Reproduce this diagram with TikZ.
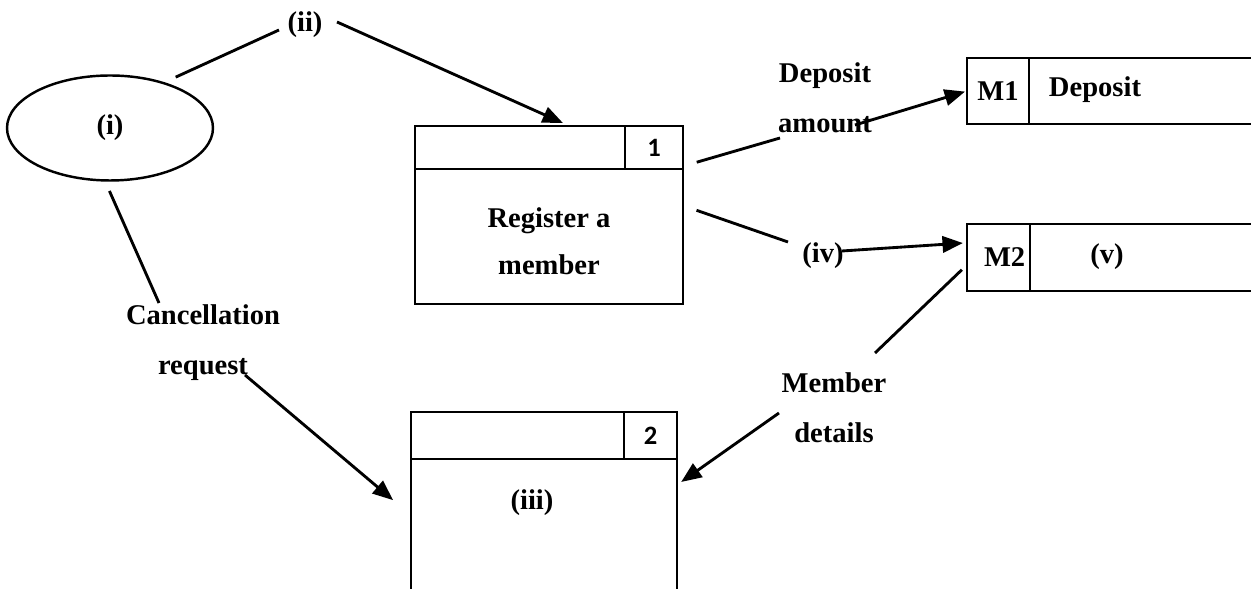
\documentclass[tikz,border=0pt]{standalone}
\usepackage{fontspec}
\setmainfont{Liberation Serif}
\newfontfamily\idfont{Carlito}
\usetikzlibrary{shapes, arrows.meta, positioning}
\newcommand{\pxl}{0.49pt}

\begin{document}
\begin{tikzpicture}[
			x=\pxl, y=-\pxl,
			every node/.style={font=\fontsize{14}{24.5}\selectfont\bfseries, align=center},
			lbl/.style={inner sep=2pt},
			proc/.style={draw, line width=1.3pt, inner sep=0, outer sep=0, anchor=north west},
			procid/.style={draw, line width=1.3pt, inner sep=0, outer sep=0, anchor=north east, font=\idfont\fontsize{13}{13}\selectfont\bfseries},
			store/.style={draw, line width=1.1pt, inner sep=0, outer sep=0, anchor=north west, minimum width=420*\pxl},
			storeid/.style={draw, line width=1.1pt, inner sep=0, outer sep=0, anchor=north west},
			flow/.style={line width=1.4pt},
			flowarrow/.style={flow, -{Triangle[length=10pt, width=8pt]}}
		]
			\useasboundingbox (0,0) rectangle (1251,589);
			\clip (0,0) rectangle (1251,589);

			\node (ext) [draw, ellipse, line width=1.2pt, inner sep=0, minimum width=206*\pxl, minimum height=105*\pxl] at (110,128) {(i)};

			\node (proc1) [proc, minimum width=268*\pxl, minimum height=178*\pxl] at (415,126) {};
			\node (proc1id) [procid, minimum width=58*\pxl, minimum height=43*\pxl] at (proc1.north east) {1};
			\draw[line width=1.3pt] (proc1.west |- proc1id.south) -- (proc1id.south west);
			\node (proc1name) [lbl, font=\fontsize{14}{23}\selectfont\bfseries] at (549,241) {Register a\\member};

			\node (proc2) [proc, minimum width=266*\pxl, minimum height=188*\pxl] at (411,412) {};
			\node (proc2id) [procid, minimum width=53*\pxl, minimum height=47*\pxl] at (proc2.north east) {2};
			\draw[line width=1.3pt] (proc2.west |- proc2id.south) -- (proc2id.south west);
			\node (proc2name) [lbl] at (532,503) {(iii)};

			\node (store1) [store, minimum height=66*\pxl] at (967,58) {};
			\node (store1id) [storeid, minimum width=62*\pxl, minimum height=66*\pxl] at (store1.north west) {M1};
			\node (store1name) [lbl] at (1095,90) {Deposit};

			\node (store2) [store, minimum height=67*\pxl] at (967,224) {};
			\node (store2id) [storeid, minimum width=63*\pxl, minimum height=67*\pxl] at (store2.north west) {\hspace*{6pt}M2};
			\node (store2name) [lbl] at (1107,257) {(v)};

			\node (labii) [lbl] at (305,25) {(ii)};
			\node (labdep) [lbl] at (825,98) {Deposit\\amount};
			\node (labiv) [lbl] at (823,256) {(iv)};
			\node (labmd) [lbl] at (834,408) {Member\\details};
			\node (labcr) [lbl] at (203,343) {Cancellation\\request};

			\coordinate (ii-in) at (279,30);
			\coordinate (ii-out) at (337,22);
			\coordinate (dep-in) at (780,138);
			\coordinate (dep-out) at (855,125);
			\coordinate (iv-in) at (788,242);
			\coordinate (iv-out) at (842,251);
			\coordinate (md-in) at (875,353);
			\coordinate (md-out) at (779,413);
			\coordinate (cr-in) at (159,303);
			\coordinate (cr-out) at (245,375);

			\draw[flow, shorten <=6pt] (ext.40) -- (ii-in);
			\draw[flowarrow, shorten >=3.5pt] (ii-out) -- (proc1.77);
			\draw[flow, shorten <=7pt] (proc1.20) -- (dep-in);
			\draw[flowarrow, shorten >=1pt] (dep-out) -- (store1.west);
			\draw[flow, shorten <=7pt] (proc1.4) -- (iv-in);
			\draw[flowarrow, shorten >=2pt] (iv-out) -- (store2.176);
			\draw[flow, shorten <=3.5pt] (store2.182) -- (md-in);
			\draw[flowarrow, shorten >=2.5pt] (md-out) -- (proc2.9);
			\draw[flow, shorten <=5pt] (ext.265) -- (cr-in);
			\draw[flowarrow, shorten >=11.5pt] (cr-out) -- (proc2.184);
		\end{tikzpicture}
\end{document}
